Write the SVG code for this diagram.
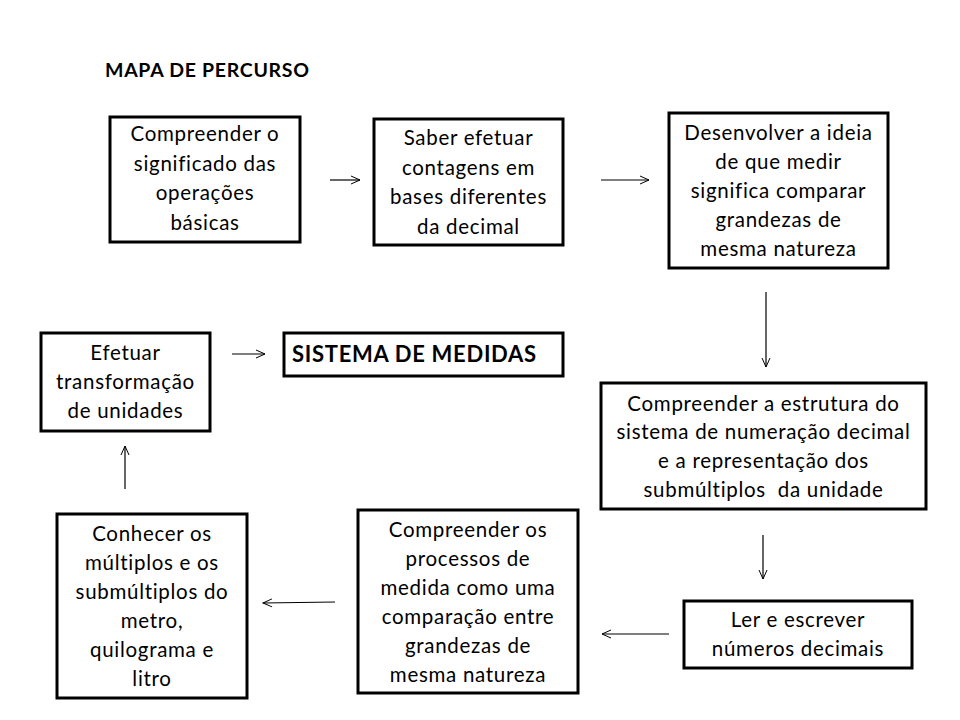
<svg xmlns="http://www.w3.org/2000/svg" width="960" height="720" viewBox="0 0 960 720">
<defs>
<marker id="ah" markerWidth="12" markerHeight="12" refX="10" refY="5" orient="auto" markerUnits="userSpaceOnUse">
<polyline points="1,1 10,5 1,9" fill="none" stroke="#000" stroke-width="1"/>
</marker>
<style>
.box{fill:#fff;stroke:#000;stroke-width:3}
.t{font-family:Lato,"Liberation Sans",sans-serif;font-size:20.5px;letter-spacing:0.7px;fill:#000;text-anchor:middle}
.b{font-family:Lato,"Liberation Sans",sans-serif;font-weight:bold;fill:#000;letter-spacing:0.7px}
.c{stroke:#000;stroke-width:1.2;fill:none;marker-end:url(#ah)}
</style>
</defs>
<rect width="960" height="720" fill="#fff"/>
<text class="b" x="105" y="77" font-size="19.5">MAPA DE PERCURSO</text>
<g id="n1">
<rect class="box" x="110" y="117" width="190" height="125"/>
<text class="t" x="205" y="141">Compreender o</text>
<text class="t" x="205" y="171">significado das</text>
<text class="t" x="205" y="200">operações</text>
<text class="t" x="205" y="230">básicas</text>
</g>
<g id="n2">
<rect class="box" x="374" y="119" width="189" height="126"/>
<text class="t" x="468.5" y="145">Saber efetuar</text>
<text class="t" x="468.5" y="175">contagens em</text>
<text class="t" x="468.5" y="204">bases diferentes</text>
<text class="t" x="468.5" y="234">da decimal</text>
</g>
<g id="n3">
<rect class="box" x="669" y="113" width="219" height="155"/>
<text class="t" x="778.5" y="140">Desenvolver a ideia</text>
<text class="t" x="778.5" y="169">de que medir</text>
<text class="t" x="778.5" y="198">significa comparar</text>
<text class="t" x="778.5" y="227">grandezas de</text>
<text class="t" x="778.5" y="256">mesma natureza</text>
</g>
<g id="n4">
<rect class="box" x="601" y="383" width="325" height="126"/>
<text class="t" x="763.5" y="411">Compreender a estrutura do</text>
<text class="t" x="763.5" y="439">sistema de numeração decimal</text>
<text class="t" x="763.5" y="468">e a representação dos</text>
<text class="t" x="763.5" y="497">submúltiplos&#160; da unidade</text>
</g>
<g id="n5">
<rect class="box" x="684" y="601" width="228" height="67"/>
<text class="t" x="798" y="627">Ler e escrever</text>
<text class="t" x="798" y="656">números decimais</text>
</g>
<g id="n6">
<rect class="box" x="358" y="510" width="220" height="183"/>
<text class="t" x="468" y="537">Compreender os</text>
<text class="t" x="468" y="566">processos de</text>
<text class="t" x="468" y="595">medida como uma</text>
<text class="t" x="468" y="624">comparação entre</text>
<text class="t" x="468" y="653">grandezas de</text>
<text class="t" x="468" y="682">mesma natureza</text>
</g>
<g id="n7">
<rect class="box" x="57" y="514" width="190" height="184"/>
<text class="t" x="152" y="541">Conhecer os</text>
<text class="t" x="152" y="570">múltiplos e os</text>
<text class="t" x="152" y="599">submúltiplos do</text>
<text class="t" x="152" y="628">metro,</text>
<text class="t" x="152" y="657">quilograma e</text>
<text class="t" x="152" y="686">litro</text>
</g>
<g id="n8">
<rect class="box" x="41" y="333" width="169" height="98"/>
<text class="t" x="125.5" y="360">Efetuar</text>
<text class="t" x="125.5" y="389">transformação</text>
<text class="t" x="125.5" y="418">de unidades</text>
</g>
<g id="n9">
<rect class="box" x="284" y="333" width="279" height="43"/>
<text class="b" x="292" y="362" font-size="22">SISTEMA DE MEDIDAS</text>
</g>
<g id="connectors">
<line class="c" x1="330" y1="180" x2="360" y2="180"/>
<line class="c" x1="601" y1="180" x2="649" y2="180"/>
<line class="c" x1="766" y1="292" x2="766" y2="367"/>
<line class="c" x1="763" y1="535" x2="763" y2="579"/>
<line class="c" x1="669" y1="634" x2="602" y2="634"/>
<line class="c" x1="335" y1="602" x2="263" y2="603"/>
<line class="c" x1="125" y1="489" x2="125" y2="446"/>
<line class="c" x1="232" y1="354" x2="265" y2="354"/>
</g>
</svg>
